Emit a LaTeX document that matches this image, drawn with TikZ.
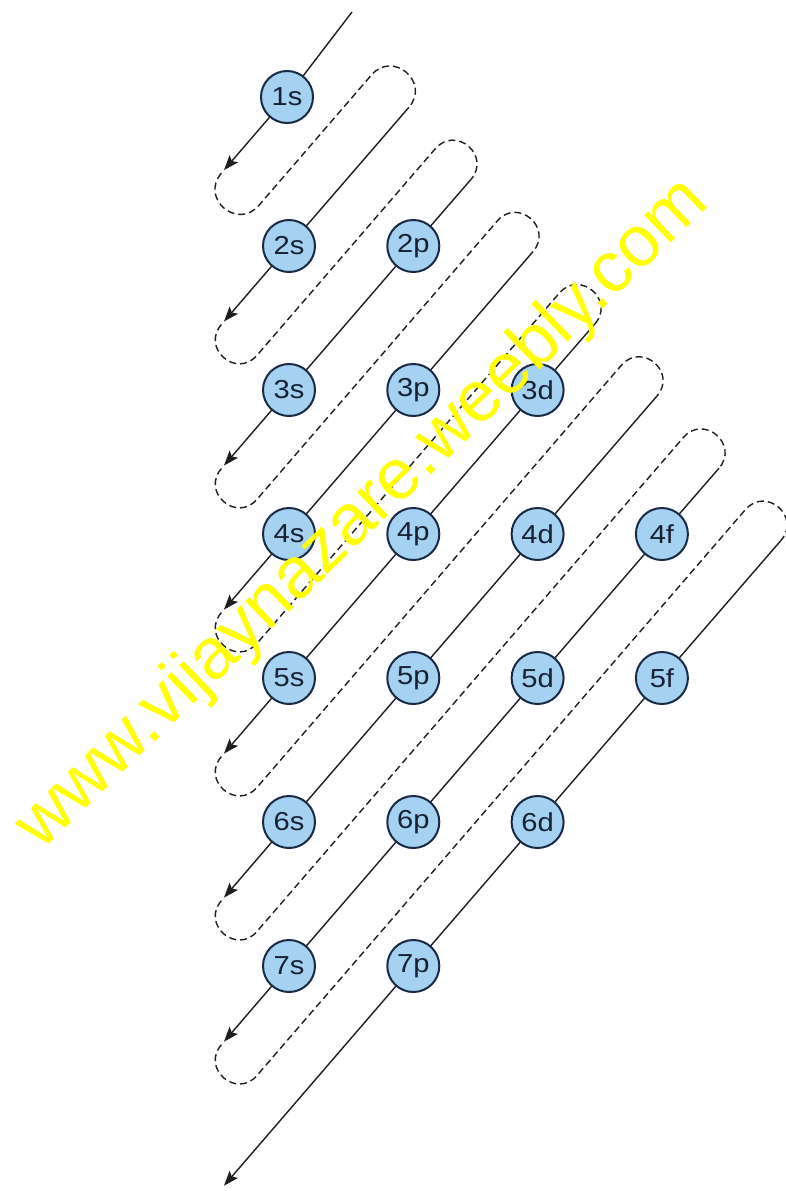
\documentclass[tikz,border=0pt]{standalone}
\usepackage{fontspec}
\setmainfont{Liberation Sans}
\newfontfamily\orbfont[FakeStretch=1.12]{Liberation Sans}
\usetikzlibrary{arrows.meta,backgrounds}
\definecolor{orbfill}{RGB}{164,210,240}
\definecolor{orbline}{RGB}{24,42,70}
\definecolor{orbtext}{RGB}{24,32,52}
\definecolor{pathcol}{RGB}{30,30,30}
\definecolor{wmark}{RGB}{255,255,0}
\begin{document}
\begin{tikzpicture}[x=1pt,y=-1pt,
  orb/.style={circle,draw=orbline,line width=2pt,fill=orbfill,minimum size=52pt,inner sep=0pt,text=orbtext,font=\orbfont\fontsize{26}{26}\selectfont},
  fwd/.style={draw=pathcol,line width=1.4pt,-{Stealth[length=15pt,width=11pt,inset=3pt]}},
  back/.style={draw=pathcol,line width=1.4pt,dash pattern=on 7pt off 4pt},
  wmtext/.style={text=wmark,font=\fontsize{72}{72}\selectfont,inner sep=0pt}]
\useasboundingbox (0,0) rectangle (785,1191);
% orbitals
\node[orb] (o1s) at (287,97) {1s};
\node[orb] (o2s) at (289,246) {2s};
\node[orb] (o2p) at (413.3,246) {2p};
\node[orb] (o3s) at (289,390) {3s};
\node[orb] (o3p) at (413.3,390) {3p};
\node[orb] (o3d) at (537.6,390) {3d};
\node[orb] (o4s) at (289,534) {4s};
\node[orb] (o4p) at (413.3,534) {4p};
\node[orb] (o4d) at (537.6,534) {4d};
\node[orb] (o4f) at (661.9,534) {4f};
\node[orb] (o5s) at (289,678) {5s};
\node[orb] (o5p) at (413.3,678) {5p};
\node[orb] (o5d) at (537.6,678) {5d};
\node[orb] (o5f) at (661.9,678) {5f};
\node[orb] (o6s) at (289,822) {6s};
\node[orb] (o6p) at (413.3,822) {6p};
\node[orb] (o6d) at (537.6,822) {6d};
\node[orb] (o7s) at (289,966) {7s};
\node[orb] (o7p) at (413.3,966) {7p};
\coordinate (S1) at (352,12);
\begin{pgfonlayer}{background}
\fill[white] (0,0) rectangle (785,1191);
\begin{scope}[x={(0.7571pt,-0.6535pt)},y={(-0.6535pt,-0.7571pt)}]
\foreach \k/\s in {1/280.7,2/379.6,3/473.7,4/567.8,5/661.9,6/756.0,7/850.1,8/944.2}{
  \pgfmathsetmacro{\tA}{(0.7571*\s-224)/0.6535}
  \coordinate (A\k) at ({\s},{\tA});
}
\foreach \k/\s/\sn in {1/280.7/379.6,2/379.6/473.7,3/473.7/567.8,4/567.8/661.9,5/661.9/756.0,6/756.0/850.1,7/850.1/944.2}{
  \pgfmathsetmacro{\rr}{(\sn-\s)/4}
  \pgfmathsetmacro{\hk}{4/3*\rr}
  \pgfmathsetmacro{\tB}{(0.7571*\s-224)/0.6535+4}
  \pgfmathsetmacro{\tT}{-186+14.13*(\k-1)}
  \pgfmathsetmacro{\sd}{\s+2*\rr}
  \pgfmathtruncatemacro{\kn}{\k+1}
  \coordinate (P\k) at ({\s},{\tB});
  \coordinate (Q\k) at ({\sd},{\tB});
  \coordinate (R\k) at ({\sd},{\tT});
  \coordinate (S\kn) at ({\sn},{\tT});
  \draw[back] (P\k) .. controls ({\s},{\tB+\hk}) and ({\sd},{\tB+\hk}) .. (Q\k)
     -- (R\k) .. controls ({\sd},{\tT-\hk}) and ({\sn},{\tT-\hk}) .. (S\kn);
}
\end{scope}
\draw[fwd] (S1) -- (o1s.center) -- (A1);
\draw[fwd] (S2) -- (o2s.center) -- (A2);
\draw[fwd] (S3) -- (o2p.center) -- (o3s.center) -- (A3);
\draw[fwd] (S4) -- (o3p.center) -- (o4s.center) -- (A4);
\draw[fwd] (S5) -- (o3d.center) -- (o4p.center) -- (o5s.center) -- (A5);
\draw[fwd] (S6) -- (o4d.center) -- (o5p.center) -- (o6s.center) -- (A6);
\draw[fwd] (S7) -- (o4f.center) -- (o5d.center) -- (o6p.center) -- (o7s.center) -- (A7);
\draw[fwd] (S8) -- (o5f.center) -- (o6d.center) -- (o7p.center) -- (A8);
\end{pgfonlayer}
% watermark
\node[wmtext,rotate=44] (wm) at (363,515) {www.vijaynazare.weebly.com};
\end{tikzpicture}
\end{document}
